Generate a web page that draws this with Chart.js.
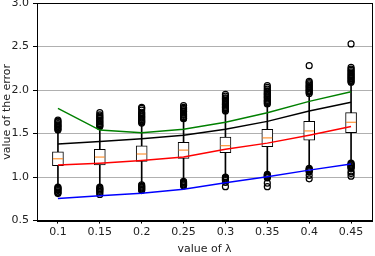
<!DOCTYPE html>
<html>
<head>
<meta charset="utf-8">
<script src="https://cdn.jsdelivr.net/npm/chart.js@4/dist/chart.umd.min.js"></script>
<style>
  html, body { margin: 0; padding: 0; background: #fff; }
  #wrap { width: 375px; height: 256px; }
</style>
</head>
<body>
<div id="wrap"><canvas id="chart" width="375" height="256"></canvas></div>
<script>
// values
const lambdas = ['0.1', '0.15', '0.2', '0.25', '0.3', '0.35', '0.4', '0.45'];
const yTicks = [0.5, 1.0, 1.5, 2.0, 2.5, 3.0];

const boxQ1 = [1.13, 1.14, 1.18, 1.215, 1.28, 1.35, 1.425, 1.51];
const boxQ3 = [1.29, 1.32, 1.36, 1.40, 1.46, 1.55, 1.64, 1.74];
const medians = [1.21, 1.23, 1.265, 1.31, 1.36, 1.45, 1.53, 1.63];
const whiskerLo = [0.90, 0.90, 0.925, 0.965, 1.015, 1.045, 1.11, 1.175];
const whiskerHi = [1.53, 1.57, 1.61, 1.66, 1.75, 1.83, 1.95, 2.08];

const outliersHigh = [
  [1.54, 1.55, 1.565, 1.58, 1.59, 1.60, 1.615, 1.63, 1.64, 1.655],
  [1.58, 1.59, 1.60, 1.615, 1.63, 1.64, 1.655, 1.67, 1.685, 1.70, 1.715, 1.74],
  [1.62, 1.635, 1.645, 1.66, 1.675, 1.69, 1.70, 1.715, 1.73, 1.745, 1.77, 1.79, 1.80],
  [1.67, 1.68, 1.695, 1.71, 1.72, 1.735, 1.75, 1.76, 1.775, 1.79, 1.80, 1.82],
  [1.76, 1.775, 1.79, 1.80, 1.815, 1.83, 1.84, 1.855, 1.87, 1.885, 1.90, 1.91, 1.93, 1.95],
  [1.84, 1.855, 1.87, 1.88, 1.895, 1.91, 1.92, 1.935, 1.95, 1.96, 1.975, 1.99, 2.01, 2.03, 2.05],
  [1.96, 1.975, 1.99, 2.00, 2.015, 2.03, 2.04, 2.055, 2.07, 2.085, 2.10, 2.28],
  [2.09, 2.10, 2.115, 2.13, 2.14, 2.155, 2.17, 2.18, 2.195, 2.21, 2.225, 2.24, 2.26, 2.53]
];
const outliersLow = [
  [0.81, 0.82, 0.83, 0.845, 0.855, 0.865, 0.875, 0.885],
  [0.80, 0.82, 0.835, 0.85, 0.86, 0.87, 0.885],
  [0.845, 0.855, 0.865, 0.875, 0.885, 0.895, 0.91],
  [0.90, 0.91, 0.92, 0.93, 0.94, 0.95],
  [0.89, 0.94, 0.96, 0.97, 0.98, 0.99, 1.00],
  [0.89, 0.93, 0.99, 1.00, 1.01, 1.02, 1.03],
  [0.98, 1.02, 1.06, 1.07, 1.08, 1.09, 1.10],
  [1.01, 1.04, 1.06, 1.10, 1.11, 1.12, 1.13, 1.14, 1.15, 1.16]
];

const greenLine = [1.79, 1.54, 1.51, 1.55, 1.63, 1.74, 1.87, 1.98];
const blackLine = [1.38, 1.41, 1.44, 1.48, 1.55, 1.64, 1.76, 1.86];
const redLine = [1.14, 1.16, 1.19, 1.23, 1.32, 1.39, 1.48, 1.58];
const blueLine = [0.755, 0.785, 0.815, 0.86, 0.935, 1.005, 1.08, 1.15];

const FONT = { family: 'DejaVu Sans', size: 11 };

const outlierPoints = [];
lambdas.forEach((l, i) => {
  outliersHigh[i].forEach(v => outlierPoints.push({ x: l, y: v }));
  outliersLow[i].forEach(v => outlierPoints.push({ x: l, y: v }));
});
const capPoints = [];
lambdas.forEach((l, i) => {
  capPoints.push({ x: l, y: whiskerLo[i] });
  capPoints.push({ x: l, y: whiskerHi[i] });
});

function curve(data, color) {
  return { type: 'line', data, borderColor: color, borderWidth: 1.5, pointRadius: 0, fill: false, tension: 0, order: 0 };
}

// frame on top + right like matplotlib spines
const frame = {
  id: 'frame',
  afterDraw(chart) {
    const { ctx, chartArea: a } = chart;
    ctx.save();
    ctx.strokeStyle = '#000';
    ctx.lineWidth = 1;
    ctx.strokeRect(Math.round(a.left) + 0.5, Math.round(a.top) + 0.5, Math.round(a.right - a.left), Math.round(a.bottom - a.top));
    ctx.restore();
  }
};

new Chart(document.getElementById('chart'), {
  type: 'bar',
  data: {
    labels: lambdas,
    datasets: [
      curve(greenLine, '#008000'),
      curve(blackLine, '#000000'),
      curve(redLine, '#ff0000'),
      curve(blueLine, '#0000ff'),
      {
        type: 'line', data: lambdas.map((l, i) => ({ x: l, y: medians[i] })),
        showLine: false, pointStyle: 'line', pointRadius: 5, borderColor: '#ff7f0e', borderWidth: 1, order: 1
      },
      {
        data: lambdas.map((l, i) => [boxQ1[i], boxQ3[i]]),
        backgroundColor: '#ffffff', borderColor: '#000', borderWidth: 1, borderSkipped: false,
        barThickness: 11, grouped: false, order: 2
      },
      {
        data: lambdas.map((l, i) => [whiskerLo[i], whiskerHi[i]]),
        backgroundColor: '#000', borderWidth: 0, barThickness: 1, grouped: false, order: 3
      },
      {
        type: 'line', data: capPoints, showLine: false, pointStyle: 'line', pointRadius: 3,
        borderColor: '#000', borderWidth: 1, order: 3
      },
      {
        type: 'line', data: outlierPoints, showLine: false, pointStyle: 'circle', pointRadius: 3,
        borderColor: '#000', backgroundColor: 'rgba(0,0,0,0)', borderWidth: 1.2, order: 4
      }
    ]
  },
  options: {
    responsive: false,
    animation: false,
    layout: { autoPadding: false, padding: { left: 0, right: 3, top: 3, bottom: 0 } },
    plugins: { legend: { display: false }, tooltip: { enabled: false } },
    scales: {
      x: {
        offset: true,
        grid: { drawOnChartArea: false, offset: false, tickLength: 3, tickColor: '#000' },
        border: { color: '#000' },
        ticks: { color: '#222', font: FONT, padding: 2, maxRotation: 0 },
        title: { display: true, text: 'value of λ', color: '#222', font: FONT, padding: { top: 2, bottom: 0 } }
      },
      y: {
        min: 0.5, max: 3.0,
        afterBuildTicks: axis => { axis.ticks = yTicks.map(v => ({ value: v })); },
        afterFit: axis => { axis.width = 37; axis.paddingTop = 0; },
        grid: { color: '#b0b0b0', tickLength: 4, tickColor: '#000' },
        border: { color: '#000' },
        ticks: { color: '#222', font: FONT, padding: 4, callback: v => v.toFixed(1) },
        title: { display: true, text: 'value of the error', color: '#222', font: FONT, padding: { top: 1, bottom: 0 } }
      }
    }
  },
  plugins: [frame]
});
</script>
</body>
</html>
